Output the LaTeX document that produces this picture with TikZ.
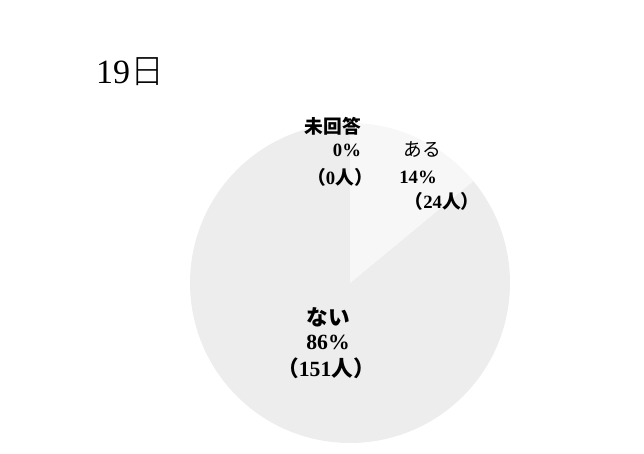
\documentclass[tikz,border=0pt]{standalone}
\usepackage{fontspec}
\setmainfont{Liberation Serif}
\newfontfamily\jp{Noto Sans CJK JP}
\newfontfamily\jpthin{Noto Sans CJK JP}[UprightFont={* Light}]
\newcommand\ja[1]{{\jp #1}}

\tikzset{
  x=0.03cm, y=0.03cm,
  lbl/.style={font=\fontsize{16}{18}\selectfont\bfseries, inner sep=1pt},
  biglbl/.style={font=\fontsize{18.5}{20}\selectfont\bfseries, inner sep=1pt},
  nai/.style={fill=black!7},
  aru/.style={fill=black!3}
}

\begin{document}
\begin{tikzpicture}
    \useasboundingbox (0,0) rectangle (644,454);
    \coordinate (C) at (350,171);
    % pie slices
    \fill [nai] (C) -- ++(39.6:160) arc (39.6:-270:160) -- cycle;
    \fill [aru] (C) -- ++(90:160) arc (90:39.6:160) -- cycle;
    % title
    \node (title) at (130,382) {\fontsize{29}{32}\selectfont 19{\jpthin 日}};
    % labels
    \node [lbl] (mikaito) at (333,328) {\ja{未回答}};
    \node [lbl] (p0)      at (347,304) {0\%};
    \node [lbl] (n0)      at (340,277) {\ja{（}0\ja{人）}};
    \node [lbl] (aru)     at (422,304) {\ja{\mdseries ある}};
    \node [lbl] (p14)     at (418,277) {14\%};
    \node [lbl] (n24)     at (442,253) {\ja{（}24\ja{人）}};
    \node [biglbl] (nai)  at (328,137) {\ja{ない}};
    \node [biglbl] (p86)  at (328,112) {86\%};
    \node [biglbl] (n151) at (326,86)  {\ja{（}151\ja{人）}};
\end{tikzpicture}
\end{document}
